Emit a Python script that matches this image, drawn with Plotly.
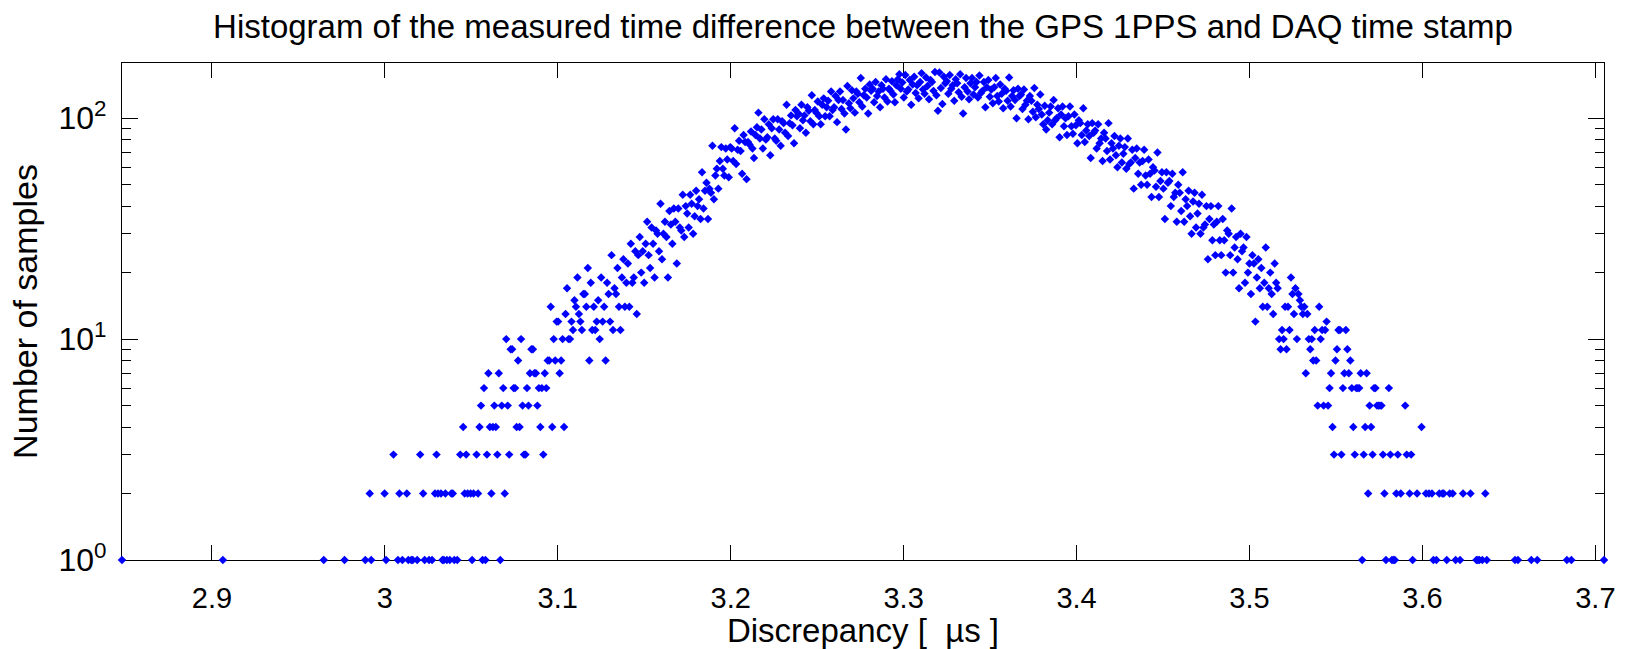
import numpy as np
import plotly.graph_objects as go

# Histogram bin centres span (µs) and number of bins
bin_first_us = 2.848
bin_last_us = 3.705

# Number of samples per bin, 1000 bins, 20 per row
counts = [
    1,0,0,0,0,0,0,0,0,0,0,0,0,0,0,0,0,0,0,0,
    0,0,0,0,0,0,0,0,0,0,0,0,0,0,0,0,0,0,0,0,
    0,0,0,0,0,0,0,0,0,0,0,0,0,0,0,0,0,0,0,0,
    0,0,0,0,0,0,0,0,1,0,0,0,0,0,0,0,0,0,0,0,
    0,0,0,0,0,0,0,0,0,0,0,0,0,0,0,0,0,0,0,0,
    0,0,0,0,0,0,0,0,0,0,0,0,0,0,0,0,0,0,0,0,
    0,0,0,0,0,0,0,0,0,0,0,0,0,0,0,0,1,0,0,0,
    0,0,0,0,0,0,0,0,0,0,1,0,0,0,0,0,0,0,0,0,
    0,0,0,0,1,0,0,2,1,0,0,0,0,0,0,0,0,2,1,0,
    0,0,0,3,0,0,1,2,0,1,0,0,2,1,0,1,1,0,0,1,
    0,3,0,2,1,0,0,1,0,1,0,2,3,2,0,2,1,1,2,1,
    0,1,2,2,1,0,1,0,3,0,4,2,3,2,0,2,1,2,0,3,
    2,4,5,1,6,1,3,7,4,2,4,5,4,3,7,1,5,6,2,10,
    5,3,9,9,6,6,4,8,4,10,5,3,3,6,5,7,9,9,7,7,
    5,6,4,6,3,7,6,8,8,14,4,10,8,12,12,7,8,10,4,13,
    17,10,10,12,11,15,14,19,13,12,11,16,16,14,21,8,18,11,14,11,
    12,15,10,19,12,14,8,18,16,12,24,11,17,16,21,14,11,19,23,14,
    18,22,14,27,18,19,25,13,24,29,20,25,18,27,34,24,21,32,27,19,
    31,30,25,41,23,30,34,29,19,38,33,27,39,34,22,39,32,31,45,29,
    40,37,32,45,41,30,36,47,40,43,35,57,39,47,51,35,48,46,75,43,
    55,59,48,64,74,59,55,73,65,54,74,73,64,90,62,72,79,71,56,84,
    78,53,78,76,87,73,66,84,91,106,81,89,73,99,80,82,94,68,90,99,
    81,79,99,89,75,97,95,86,115,83,95,103,93,77,109,102,105,90,115,98,
    103,86,112,108,97,127,94,109,106,119,102,94,115,123,102,112,120,102,132,109,
    112,126,96,121,132,110,121,105,89,140,117,111,134,123,106,132,129,118,152,113,
    127,136,124,105,142,133,136,118,146,126,132,112,141,136,124,150,119,136,133,147,
    128,118,141,150,158,136,145,124,157,132,135,149,115,142,154,130,141,123,146,160,
    135,129,153,140,122,149,146,133,162,127,108,161,137,116,154,144,147,129,157,136,
    141,120,150,144,131,158,125,105,138,152,132,122,144,152,128,138,146,124,156,130,
    133,146,112,138,149,125,135,117,138,152,126,119,142,129,111,136,133,120,153,113,
    126,134,121,100,136,126,128,110,135,115,120,99,126,120,107,137,101,115,110,128,
    104,94,114,89,98,106,113,94,121,98,100,111,82,104,113,92,100,84,102,113,
    92,85,104,93,77,98,95,84,111,78,88,94,83,66,95,86,88,73,94,77,
    81,64,86,81,71,95,65,77,73,83,68,60,75,81,63,69,74,59,81,62,
    63,72,48,66,73,56,63,50,64,72,55,50,65,56,44,60,58,49,70,44,
    52,57,48,35,57,51,52,40,56,44,46,34,50,46,38,57,34,43,40,47,
    36,30,42,46,32,37,41,30,45,32,33,40,23,35,40,28,33,24,34,40,
    28,24,35,28,20,31,30,24,39,20,26,29,23,17,30,25,26,18,29,20,
    22,16,24,22,12,19,23,17,21,14,18,26,14,17,20,16,13,22,18,17,
    10,9,11,10,14,9,14,11,19,16,13,17,10,16,15,14,13,14,7,13,
    10,9,10,8,11,8,5,14,10,11,5,11,12,5,6,7,4,3,8,9,
    11,11,3,6,7,11,9,7,8,6,4,3,6,6,6,7,1,3,4,7,
    2,5,4,3,6,6,5,5,5,5,3,2,1,0,6,3,1,1,1,2,
    3,0,2,0,0,5,3,0,2,3,1,0,0,2,0,0,4,0,0,2,
    0,2,0,2,1,0,1,0,2,0,2,2,0,1,0,2,0,2,0,1,
    0,0,1,0,2,0,0,0,0,2,0,0,0,1,1,1,0,1,0,2,
    1,0,0,0,0,0,0,0,0,0,0,0,0,0,0,0,0,0,0,1,
    0,1,0,0,0,0,0,0,0,0,1,0,0,0,1,0,0,0,0,0,
    0,0,0,0,0,0,0,0,0,0,0,0,0,0,1,0,0,1,0,0,
    0,0,0,0,0,0,0,0,0,0,0,0,0,0,0,0,0,0,0,1,
]

x_tick_vals = [2.9, 3.0, 3.1, 3.2, 3.3, 3.4, 3.5, 3.6, 3.7]
x_tick_text = ["2.9", "3", "3.1", "3.2", "3.3", "3.4", "3.5", "3.6", "3.7"]
y_tick_vals = [1, 10, 100]
y_tick_text = ["10<sup>0</sup>", "10<sup>1</sup>", "10<sup>2</sup>"]
y_minor_vals = [2, 3, 4, 5, 6, 7, 8, 9, 20, 30, 40, 50, 60, 70, 80, 90]

title_text = "Histogram of the measured time difference between the GPS 1PPS and DAQ time stamp"
x_title = "Discrepancy [\u00a0\u00a0\u00b5s ]"
y_title = "Number of samples"

x_all = np.linspace(bin_first_us, bin_last_us, len(counts))
c_all = np.array(counts)
keep = c_all > 0

FONT = "Liberation Sans, Arial, Helvetica, sans-serif"

fig = go.Figure(
    go.Scatter(
        x=x_all[keep],
        y=c_all[keep],
        mode="markers",
        marker=dict(symbol="diamond", size=6.5, color="#0000ff", line=dict(width=0)),
        cliponaxis=False,
        hoverinfo="x+y",
    )
)

fig.update_layout(
    width=1628,
    height=649,
    margin=dict(l=122, r=24, t=63, b=89),
    paper_bgcolor="white",
    plot_bgcolor="white",
    showlegend=False,
    font=dict(family=FONT, color="black"),
    title=dict(
        text=title_text,
        font=dict(size=33, family=FONT, color="black"),
        x=0.5, xref="paper", xanchor="center",
        y=1 - 26 / 649, yref="container", yanchor="middle",
    ),
)

fig.update_xaxes(
    range=[bin_first_us, bin_last_us],
    tickmode="array", tickvals=x_tick_vals, ticktext=x_tick_text,
    ticks="inside", ticklen=15, tickwidth=1.2, tickcolor="black",
    showline=True, linecolor="black", linewidth=1.2, mirror="allticks",
    showgrid=False, zeroline=False,
    tickfont=dict(size=29, family=FONT, color="black"),
    ticklabelstandoff=12,
    layer="below traces",
    title=dict(text=x_title, font=dict(size=33, family=FONT, color="black"), standoff=0),
)

fig.update_yaxes(
    type="log",
    range=[0, 2.25],
    tickmode="array", tickvals=y_tick_vals, ticktext=y_tick_text,
    ticks="inside", ticklen=16, tickwidth=1.2, tickcolor="black",
    minor=dict(tickmode="array", tickvals=y_minor_vals, ticks="inside", ticklen=9,
               tickwidth=1.2, tickcolor="black", showgrid=False),
    showline=True, linecolor="black", linewidth=1.2, mirror="allticks",
    showgrid=False, zeroline=False,
    tickfont=dict(size=32, family=FONT, color="black"),
    ticklabelstandoff=8,
    layer="below traces",
    title=dict(text=y_title, font=dict(size=34, family=FONT, color="black"), standoff=10),
)

fig.write_html("out.html")
